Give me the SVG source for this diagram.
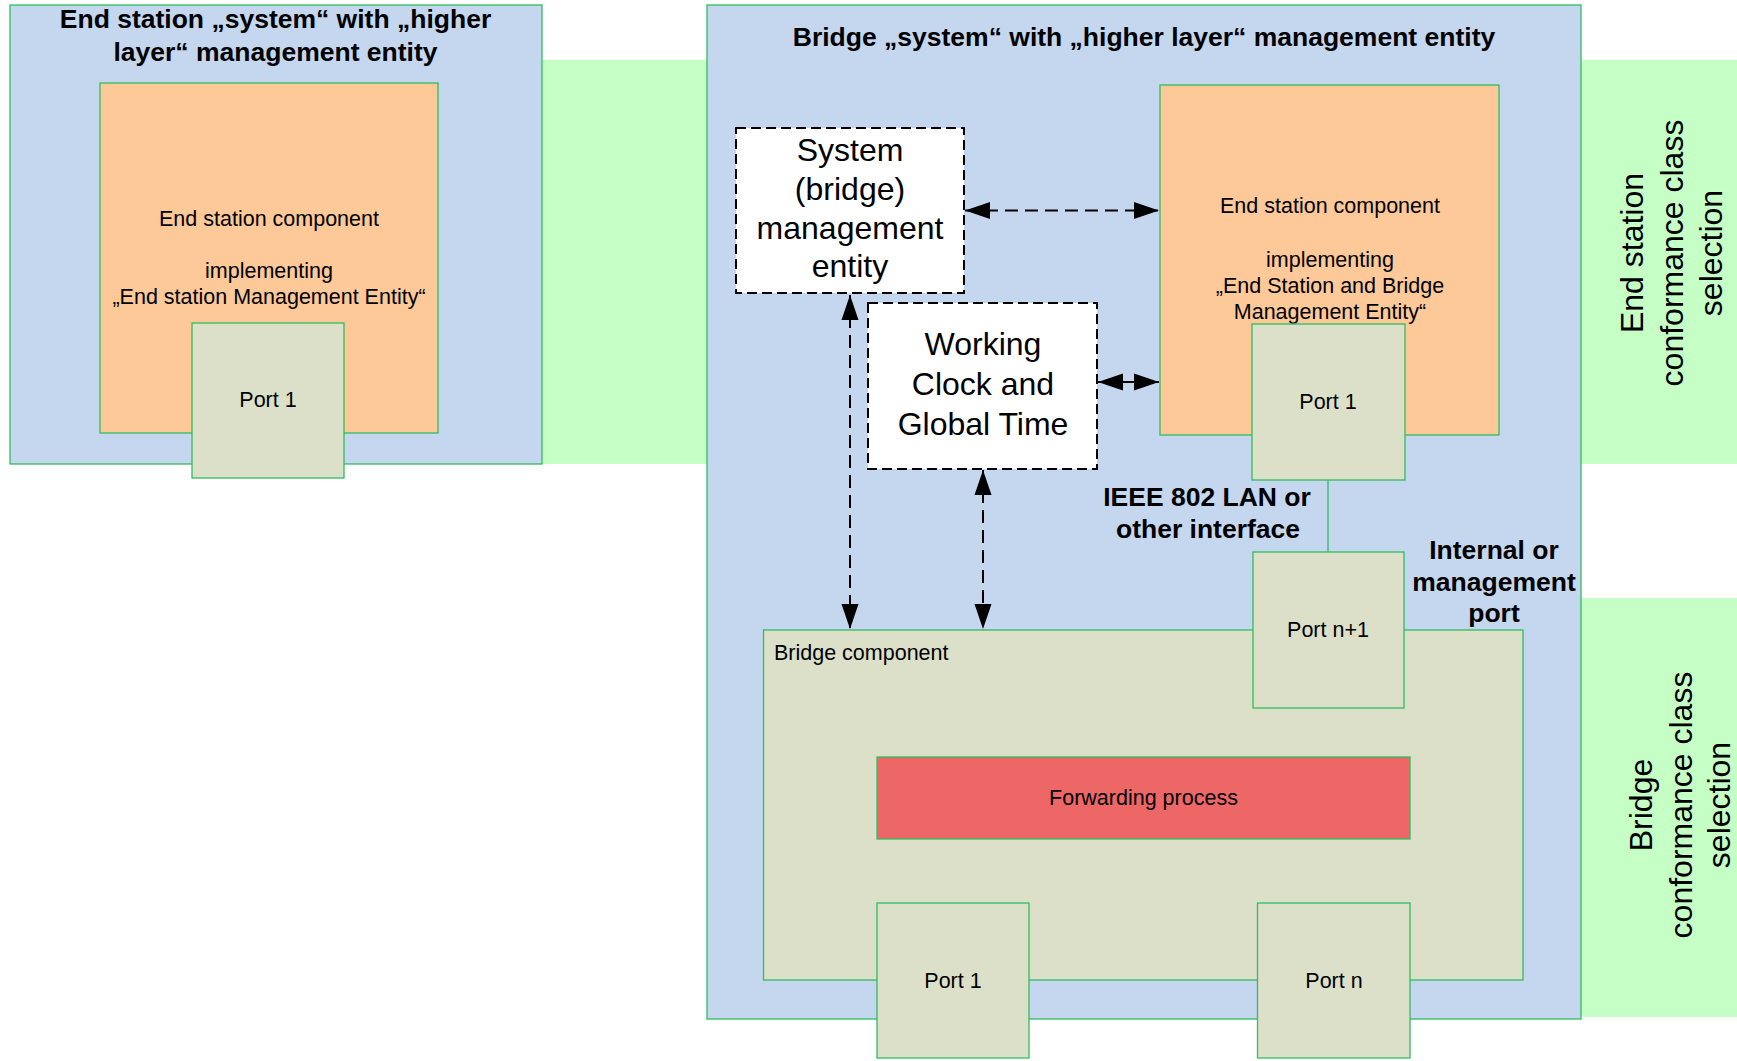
<svg xmlns="http://www.w3.org/2000/svg" width="1737" height="1061" viewBox="0 0 1737 1061">
<defs>
<style>
.sys{fill:#C5D7EE;stroke:#2EBD5F;stroke-width:1.3}
.esc{fill:#FDC998;stroke:#2EBD5F;stroke-width:1.3}
.port{fill:#DCE0C9;stroke:#2EBD5F;stroke-width:1.3}
.fwd{fill:#EE6767;stroke:#2EBD5F;stroke-width:1.3}
.band{fill:#C5FFC5}
.mgmt{fill:#FFFFFF;stroke:#000;stroke-width:2;stroke-dasharray:10,5}
.t{font-family:"Liberation Sans",Arial,sans-serif;font-size:21.5px;fill:#000}
.b{font-family:"Liberation Sans",Arial,sans-serif;font-size:26.5px;font-weight:bold;fill:#000}
.l{font-family:"Liberation Sans",Arial,sans-serif;font-size:32px;fill:#000}
.m{text-anchor:middle}
.dash{fill:none;stroke:#000;stroke-width:2;stroke-dasharray:13,7}
.solid{fill:none;stroke:#000;stroke-width:2}
.link{fill:none;stroke:#2EBD5F;stroke-width:1.3}
</style>
<marker id="ah" markerUnits="userSpaceOnUse" markerWidth="26" markerHeight="18" viewBox="0 0 26 18" refX="25" refY="9" orient="auto-start-reverse">
<path d="M0,0.5 L25,9 L0,17.5 Z" fill="#000"/>
</marker>
</defs>

<g id="bands">
<rect class="band" x="542" y="60" width="1195" height="404"/>
<rect class="band" x="1581" y="598" width="156" height="419"/>
<text class="l m" transform="translate(1643,253) rotate(-90)">End station</text>
<text class="l m" transform="translate(1683,253) rotate(-90)">conformance class</text>
<text class="l m" transform="translate(1722,253) rotate(-90)">selection</text>
<text class="l m" transform="translate(1652,805) rotate(-90)">Bridge</text>
<text class="l m" transform="translate(1692,805) rotate(-90)">conformance class</text>
<text class="l m" transform="translate(1730,805) rotate(-90)">selection</text>
</g>

<g id="end-station-system">
<rect class="sys" x="10" y="5" width="532" height="459"/>
<text class="b m" x="275.5" y="28">End station „system“ with „higher</text>
<text class="b m" x="275.5" y="61">layer“ management entity</text>
</g>
<g id="end-station-component-left">
<rect class="esc" x="100" y="83" width="338" height="350"/>
<text class="t m" x="269" y="226">End station component</text>
<text class="t m" x="269" y="278">implementing</text>
<text class="t m" x="269" y="304">„End station Management Entity“</text>
</g>
<g id="left-port-1">
<rect class="port" x="192" y="323" width="152" height="155"/>
<text class="t m" x="268" y="407">Port 1</text>
</g>

<g id="bridge-system">
<rect class="sys" x="707" y="5" width="874" height="1014"/>
<text class="b m" x="1144" y="46">Bridge „system“ with „higher layer“ management entity</text>
</g>
<g id="end-station-component-right">
<rect class="esc" x="1160" y="85" width="339" height="350"/>
<text class="t m" x="1330" y="213">End station component</text>
<text class="t m" x="1330" y="267">implementing</text>
<text class="t m" x="1330" y="293">„End Station and Bridge</text>
<text class="t m" x="1330" y="319">Management Entity“</text>
</g>
<g id="right-port-1">
<rect class="port" x="1252" y="324" width="153" height="156"/>
<text class="t m" x="1328" y="409">Port 1</text>
</g>
<g id="system-management-entity">
<rect class="mgmt" x="736" y="128" width="228" height="165"/>
<text class="l m" x="850" y="161">System</text>
<text class="l m" x="850" y="200">(bridge)</text>
<text class="l m" x="850" y="239">management</text>
<text class="l m" x="850" y="277">entity</text>
</g>
<g id="working-clock">
<rect class="mgmt" x="868" y="303" width="229" height="166"/>
<text class="l m" x="983" y="355">Working</text>
<text class="l m" x="983" y="395">Clock and</text>
<text class="l m" x="983" y="435">Global Time</text>
</g>
<g id="bridge-component">
<rect class="port" x="763.5" y="630" width="759.5" height="350"/>
<text class="t" x="774" y="660">Bridge component</text>
</g>
<g id="forwarding-process">
<rect class="fwd" x="877" y="757" width="533" height="82"/>
<text class="t m" x="1143.5" y="805">Forwarding process</text>
</g>
<g id="port-n-plus-1">
<rect class="port" x="1253" y="552" width="151" height="156"/>
<text class="t m" x="1328" y="637">Port n+1</text>
</g>
<g id="bridge-port-1">
<rect class="port" x="877" y="903" width="152" height="155"/>
<text class="t m" x="953" y="988">Port 1</text>
</g>
<g id="bridge-port-n">
<rect class="port" x="1257.5" y="903" width="152.5" height="155"/>
<text class="t m" x="1334" y="988">Port n</text>
</g>

<g id="labels">
<text class="b m" x="1207" y="506">IEEE 802 LAN or</text>
<text class="b m" x="1208" y="538">other interface</text>
<text class="b m" x="1494" y="559">Internal or</text>
<text class="b m" x="1494" y="591">management</text>
<text class="b m" x="1494" y="622">port</text>
</g>

<g id="connectors">
<line class="link" x1="1328" y1="480" x2="1328" y2="552"/>
<line class="dash" x1="965" y1="210.5" x2="1159" y2="210.5" marker-start="url(#ah)" marker-end="url(#ah)"/>
<line class="solid" x1="1098" y1="382" x2="1159" y2="382" marker-start="url(#ah)" marker-end="url(#ah)"/>
<line class="dash" x1="850" y1="295" x2="850" y2="629" marker-start="url(#ah)" marker-end="url(#ah)"/>
<line class="dash" x1="983" y1="470" x2="983" y2="629" marker-start="url(#ah)" marker-end="url(#ah)"/>
</g>
</svg>
